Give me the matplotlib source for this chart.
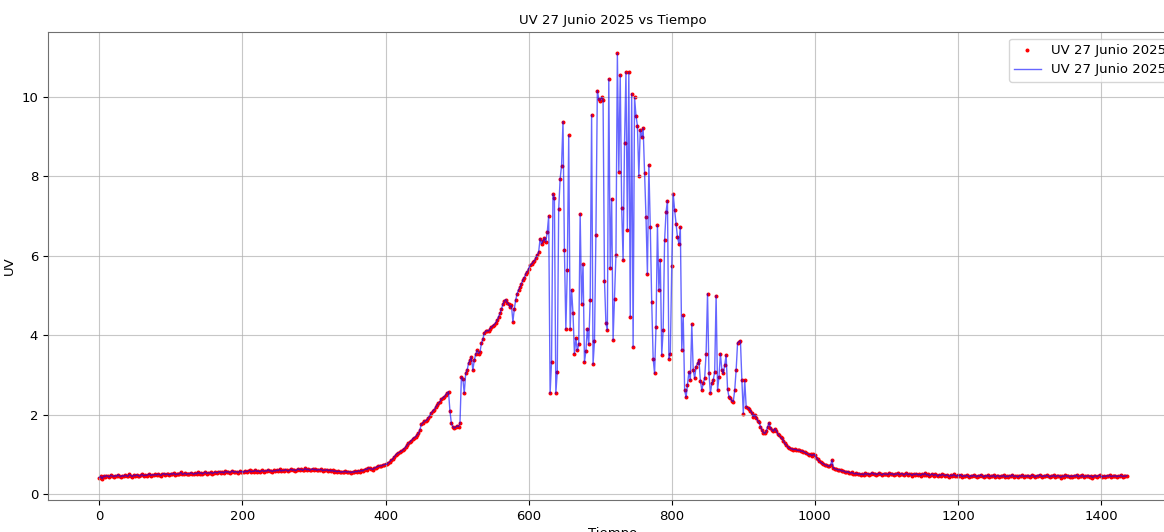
import numpy as np
import matplotlib.pyplot as plt

# Lecturas de UV del 27 de junio de 2025, una cada 2 minutos
paso = 2

# 00:00 - 06:18
uv_madrugada = [0.42, 0.45, 0.39, 0.46, 0.44, 0.47, 0.45, 0.43, 0.48, 0.46, 0.44, 0.47, 0.45, 0.49, 0.46, 0.44, 0.47, 0.45, 0.48, 0.46,
                0.45, 0.50, 0.47, 0.44, 0.48, 0.46, 0.49, 0.47, 0.45, 0.48, 0.50, 0.46, 0.48, 0.47, 0.49, 0.51, 0.47, 0.49, 0.48, 0.50,
                0.48, 0.51, 0.49, 0.47, 0.50, 0.52, 0.49, 0.51, 0.50, 0.48, 0.52, 0.50, 0.53, 0.49, 0.51, 0.50, 0.52, 0.55, 0.50, 0.51,
                0.53, 0.50, 0.52, 0.51, 0.54, 0.52, 0.50, 0.53, 0.51, 0.55, 0.52, 0.54, 0.51, 0.53, 0.56, 0.52, 0.54, 0.53, 0.55, 0.52,
                0.54, 0.56, 0.53, 0.55, 0.57, 0.54, 0.56, 0.53, 0.58, 0.55, 0.57, 0.54, 0.56, 0.59, 0.55, 0.57, 0.56, 0.54, 0.58, 0.56,
                0.57, 0.55, 0.59, 0.56, 0.58, 0.60, 0.56, 0.58, 0.57, 0.61, 0.57, 0.59, 0.56, 0.58, 0.60, 0.57, 0.59, 0.58, 0.62, 0.58,
                0.59, 0.57, 0.60, 0.58, 0.61, 0.59, 0.63, 0.58, 0.60, 0.59, 0.62, 0.60, 0.58, 0.61, 0.63, 0.60, 0.62, 0.59, 0.61, 0.64,
                0.61, 0.63, 0.60, 0.62, 0.65, 0.61, 0.63, 0.60, 0.62, 0.64, 0.61, 0.63, 0.60, 0.62, 0.61, 0.63, 0.59, 0.61, 0.60, 0.62,
                0.59, 0.61, 0.58, 0.60, 0.57, 0.59, 0.56, 0.58, 0.57, 0.55, 0.57, 0.56, 0.58, 0.55, 0.57, 0.56, 0.54, 0.57, 0.55, 0.58,
                0.56, 0.59, 0.57, 0.60, 0.58, 0.61, 0.63, 0.62, 0.66, 0.65]

# 06:20 - 10:14
uv_manana = [0.64, 0.62, 0.65, 0.67, 0.69, 0.70, 0.72, 0.71, 0.73, 0.74, 0.76, 0.75, 0.79, 0.82, 0.86, 0.88, 0.94, 0.98, 1.02, 1.04,
             1.06, 1.08, 1.11, 1.14, 1.19, 1.23, 1.28, 1.31, 1.35, 1.39, 1.42, 1.45, 1.49, 1.53, 1.62, 1.76, 1.79, 1.83, 1.85, 1.87,
             1.93, 1.98, 2.05, 2.09, 2.13, 2.19, 2.24, 2.29, 2.33, 2.39, 2.42, 2.45, 2.50, 2.54, 2.58, 2.10, 1.78, 1.70, 1.66, 1.69,
             1.72, 1.70, 1.78, 2.95, 2.91, 2.54, 3.04, 3.12, 3.30, 3.37, 3.46, 3.12, 3.37, 3.52, 3.62, 3.54, 3.58, 3.80, 3.90, 4.06,
             4.10, 4.12, 4.11, 4.17, 4.20, 4.24, 4.27, 4.32, 4.38, 4.47, 4.55, 4.66, 4.78, 4.86, 4.90, 4.82, 4.79, 4.71, 4.75, 4.34,
             4.67, 4.90, 5.05, 5.15, 5.21, 5.30, 5.40, 5.45, 5.55, 5.60, 5.68, 5.76, 5.79, 5.84, 5.88, 5.95, 6.02, 6.10]

# 10:16 - 14:58
uv_mediodia = [6.43, 6.30, 6.38, 6.45, 6.35, 6.60, 7.00, 2.54, 3.33, 7.56, 7.45, 2.54, 3.08, 7.18, 7.94, 8.27, 9.38, 6.14, 4.15, 5.64,
               9.03, 4.15, 5.15, 4.55, 3.54, 3.92, 3.62, 3.77, 7.06, 4.80, 5.79, 3.33, 3.60, 4.17, 3.77, 4.90, 9.55, 3.27, 3.85, 6.52,
               10.16, 9.95, 9.91, 9.99, 9.93, 5.36, 4.30, 4.13, 10.45, 5.69, 7.44, 3.88, 4.92, 6.03, 11.10, 8.12, 10.55, 7.21, 5.89, 8.84,
               10.62, 6.66, 10.62, 4.46, 10.08, 3.71, 9.99, 9.53, 9.28, 8.00, 9.17, 8.99, 9.22, 8.08, 6.98, 5.54, 8.29, 6.72, 4.84, 3.41,
               3.04, 4.21, 6.77, 5.13, 5.89, 3.50, 4.13, 6.39, 7.10, 7.39, 3.41, 3.54, 5.74, 7.56, 7.16, 6.81, 6.47, 6.31, 6.72, 3.62,
               4.50, 2.62, 2.44, 2.75, 3.08, 2.87, 4.28, 3.13, 2.92, 3.21, 3.29, 3.37, 2.86, 2.62, 2.79, 2.92, 3.54, 5.05, 3.04, 2.54,
               2.79, 2.87, 3.08, 5.00, 2.62, 2.95, 3.54, 3.13, 3.04, 3.25, 3.50, 2.64, 2.45, 2.41, 2.35, 2.33, 2.62, 3.13, 3.81, 3.84,
               3.86, 2.87]

# 15:00 - 17:38
uv_tarde = [2.03, 2.87, 2.20, 2.18, 2.15, 2.10, 2.05, 1.95, 2.00, 1.93, 1.85, 1.82, 1.70, 1.62, 1.55, 1.53, 1.58, 1.70, 1.80, 1.66,
            1.62, 1.58, 1.65, 1.60, 1.52, 1.48, 1.43, 1.41, 1.35, 1.28, 1.24, 1.20, 1.16, 1.15, 1.14, 1.12, 1.13, 1.12, 1.10, 1.11,
            1.08, 1.09, 1.07, 1.05, 1.03, 1.01, 0.99, 1.00, 0.97, 1.00, 0.99, 0.92, 0.88, 0.83, 0.81, 0.78, 0.76, 0.74, 0.73, 0.71,
            0.70, 0.74, 0.86, 0.65, 0.64, 0.63, 0.61, 0.62, 0.60, 0.58, 0.59, 0.56, 0.55, 0.57, 0.54, 0.53, 0.55, 0.52, 0.51, 0.53]

# 17:40 - 23:56
uv_noche = [0.50, 0.52, 0.49, 0.51, 0.48, 0.53, 0.50, 0.52, 0.49, 0.51, 0.54, 0.50, 0.52, 0.49, 0.51, 0.53, 0.50, 0.48, 0.52, 0.50,
            0.51, 0.49, 0.53, 0.50, 0.52, 0.48, 0.51, 0.50, 0.53, 0.49, 0.51, 0.52, 0.48, 0.50, 0.53, 0.49, 0.51, 0.50, 0.47, 0.51,
            0.49, 0.52, 0.48, 0.50, 0.47, 0.51, 0.49, 0.53, 0.48, 0.50, 0.46, 0.49, 0.51, 0.47, 0.50, 0.48, 0.45, 0.49, 0.47, 0.50,
            0.48, 0.46, 0.49, 0.47, 0.44, 0.48, 0.46, 0.50, 0.47, 0.45, 0.48, 0.46, 0.49, 0.44, 0.47, 0.45, 0.48, 0.46, 0.43, 0.47,
            0.45, 0.48, 0.46, 0.44, 0.47, 0.45, 0.49, 0.46, 0.43, 0.47, 0.45, 0.48, 0.44, 0.46, 0.45, 0.48, 0.43, 0.46, 0.47, 0.44,
            0.46, 0.45, 0.48, 0.43, 0.46, 0.44, 0.47, 0.45, 0.49, 0.44, 0.46, 0.45, 0.43, 0.47, 0.45, 0.48, 0.44, 0.46, 0.45, 0.47,
            0.44, 0.46, 0.48, 0.45, 0.43, 0.47, 0.45, 0.49, 0.46, 0.44, 0.47, 0.45, 0.48, 0.46, 0.43, 0.46, 0.45, 0.48, 0.44, 0.46,
            0.47, 0.45, 0.42, 0.46, 0.44, 0.48, 0.45, 0.47, 0.43, 0.46, 0.44, 0.47, 0.45, 0.49, 0.44, 0.46, 0.45, 0.48, 0.43, 0.46,
            0.45, 0.47, 0.44, 0.46, 0.42, 0.45, 0.47, 0.44, 0.46, 0.48, 0.45, 0.43, 0.46, 0.44, 0.47, 0.45, 0.48, 0.44, 0.46, 0.45,
            0.47, 0.44, 0.46, 0.45, 0.48, 0.44, 0.46, 0.45, 0.47]

etiqueta = 'UV 27 Junio 2025'

uv = np.array(uv_madrugada + uv_manana + uv_mediodia + uv_tarde + uv_noche)
tiempo = np.arange(len(uv)) * paso

fs = 9.5
fig = plt.figure(figsize=(11.64, 5.32), dpi=100)
# el eje se sale un poco por la derecha
ax = fig.add_axes([0.0412, 0.0602, 0.971, 0.8797])

ax.scatter(tiempo, uv, s=3.5, c='red', label=etiqueta)
ax.plot(tiempo, uv, color='blue', lw=1.0, alpha=0.6, label=etiqueta)

ax.set_title('UV 27 Junio 2025 vs Tiempo', fontsize=fs)
ax.set_xlabel('Tiempo', fontsize=fs, labelpad=3)
ax.set_ylabel('UV', fontsize=fs)
ax.tick_params(labelsize=fs)
ax.grid(True, alpha=0.7)
for s in ax.spines.values():
    s.set_color('#707070')
ax.legend(loc='upper right', fontsize=fs)

fig.savefig('out.png')
